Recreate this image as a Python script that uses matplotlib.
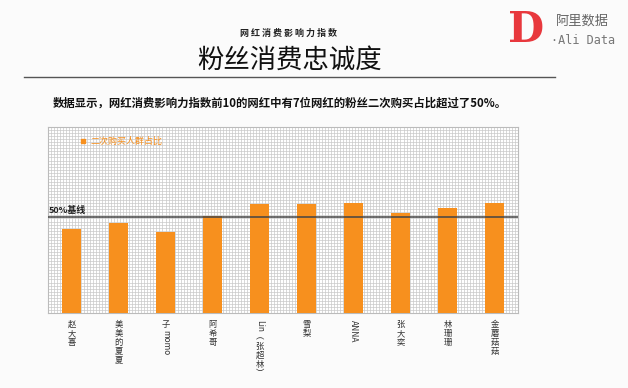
import matplotlib
matplotlib.use("Agg")
import matplotlib.pyplot as plt
import matplotlib.transforms as mtransforms
import numpy as np

plt.rcParams['font.family'] = ['Noto Sans CJK SC', 'DejaVu Sans']

# data
names = ["赵大喜", "美美的夏夏", "子momo", "阿希哥", "Lin（张超林）",
         "雪梨", "ANNA", "张大奕", "林珊珊", "金蘑菇菇"]
share = [44, 47, 42, 50.5, 57, 57, 57.5, 52, 55, 57.5]
baseline = 50

orange = '#f7901e'

fig = plt.figure(figsize=(6.28, 3.88), dpi=100)
fig.patch.set_facecolor('#fbfbfb')
ax = fig.add_axes([48/628, 75/388, 470/628, 186/388])
ax.set_facecolor('white')

x = np.arange(len(names))
ax.bar(x, share, width=0.4, color=orange, zorder=3)
ax.axhline(baseline, color='#444444', lw=1.1, zorder=4)

ax.set_xlim(-0.5, len(names) - 0.5)
ax.set_ylim(0, 97)

# fine grid paper
ax.set_xticks(np.linspace(-0.5, len(names) - 0.5, 157), minor=True)
ax.set_yticks(np.linspace(0, 97, 62), minor=True)
ax.grid(which='minor', color='#c9c9c9', lw=0.5, zorder=0)
ax.tick_params(which='both', length=0, labelbottom=False, labelleft=False)
ax.set_xticks([])
ax.set_yticks([])
for s in ax.spines.values():
    s.set_color('#bbbbbb')
    s.set_linewidth(0.8)

# legend
ax.plot([0.075], [0.925], 's', ms=3.5, color=orange, transform=ax.transAxes)
ax.text(0.09, 0.925, "二次购买人群占比", color=orange, fontsize=6.5,
        va='center', ha='left', transform=ax.transAxes)
blend = mtransforms.blended_transform_factory(ax.transAxes, ax.transData)
ax.text(0.002, baseline + 1.0, "50%基线", fontsize=6.5, fontweight='bold',
        va='bottom', ha='left', color='#222222', transform=blend)

# vertical tick labels: CJK stacked upright, latin rotated
fig.canvas.draw()
renderer = fig.canvas.get_renderer()
fs = 6
vert = {"（": "︵", "）": "︶"}
for xi, name in zip(x, names):
    runs = []
    for ch in name:
        kind = ch.isascii()
        if runs and runs[-1][0] == kind:
            runs[-1][1] += ch
        else:
            runs.append([kind, ch])
    off = 5
    for is_latin, txt in runs:
        if is_latin:
            t = ax.annotate(txt, (xi, 0), xycoords=('data', 'axes fraction'),
                            xytext=(0, -off), textcoords='offset points',
                            rotation=270, ha='center', va='top', fontsize=fs,
                            color='#333333')
        else:
            txt = "\n".join(vert.get(c, c) for c in txt)
            t = ax.annotate(txt, (xi, 0), xycoords=('data', 'axes fraction'),
                            xytext=(0, -off), textcoords='offset points',
                            ha='center', va='top', fontsize=fs, linespacing=1.0,
                            color='#333333')
        bb = t.get_window_extent(renderer)
        off += bb.height * 72 / fig.dpi + 0.5

# header
fig.text(288/628, 1 - 33/388, " ".join("网红消费影响力指数"), fontsize=6.5,
         fontweight='bold', ha='center', va='center', color='#222222')
fig.text(290/628, 1 - 60/388, "粉丝消费忠诚度", fontsize=19,
         ha='center', va='center', color='#111111')
fig.add_artist(plt.Line2D([24/628, 555/628], [1 - 77/388, 1 - 77/388],
                          color='#555555', lw=1.0))
fig.text(280/628, 1 - 103/388,
         "数据显示，网红消费影响力指数前10的网红中有7位网红的粉丝二次购买占比超过了50%。",
         fontsize=8.2, fontweight='bold', ha='center', va='center', color='#111111')

# logo
fig.text(526/628, 1 - 30/388, "D", fontsize=30, fontweight='bold',
         family='DejaVu Serif', color='#e8383d', ha='center', va='center')
fig.text(556/628, 1 - 21/388, "阿里数据", fontsize=9.5, color='#666666',
         ha='left', va='center')
fig.text(551/628, 1 - 40/388, "·Ali Data", fontsize=8.5, family='DejaVu Sans Mono',
         color='#777777', ha='left', va='center')

fig.savefig("out.png", dpi=100, facecolor=fig.get_facecolor())
